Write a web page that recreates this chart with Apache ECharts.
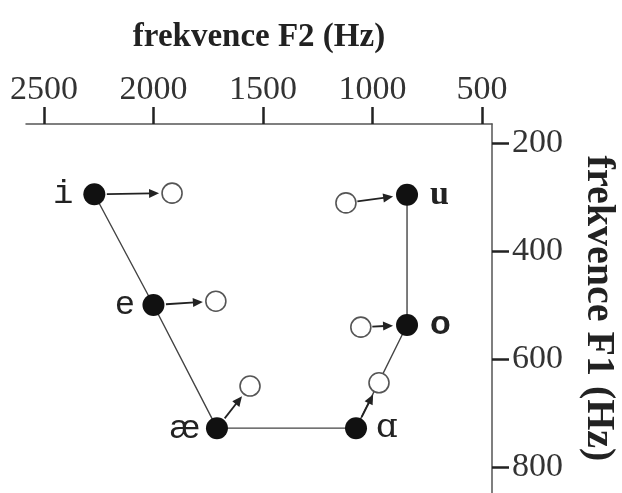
<!DOCTYPE html>
<html><head><meta charset="utf-8">
<script src="https://cdn.jsdelivr.net/npm/echarts@6/dist/echarts.min.js"></script>
<style>html,body{margin:0;padding:0;background:#fff}#c{width:622px;height:493px}</style>
</head><body><div id="c"></div>
<script>
// ---- data ----
const vowels = ['i', 'e', 'æ', 'ɑ', 'o', 'u'];
const f2Filled = [2270, 2000, 1710, 1075, 842, 842];
const f1Filled = [295, 500, 728, 728, 537, 296];
const f2Open = [1915, 1715, 1559, 970, 1053, 1121];
const f1Open = [293, 493, 650, 644, 541, 311];
const arrowToOpen = [1, 1, 1, 1, 0, 0];
const f2Ticks = [2500, 2000, 1500, 1000, 500];
const f1Ticks = [200, 400, 600, 800];
const f2Title = 'frekvence F2 (Hz)';
const f1Title = 'frekvence F1 (Hz)';

// ---- label styles (per vowel) ----
const labelStyle = {
  'i': { position: 'left', fontFamily: 'Liberation Mono', distance: 10 },
  'e': { position: 'left', fontFamily: 'Liberation Sans', distance: 8 },
  'æ': { position: 'left', fontFamily: 'Liberation Sans', distance: 6 },
  'ɑ': { position: 'right', fontFamily: 'DejaVu Serif', distance: 9 },
  'o': { position: 'right', fontFamily: 'Liberation Sans', fontWeight: 'bold', distance: 12 },
  'u': { position: 'right', fontFamily: 'Liberation Serif', fontWeight: 'bold', distance: 12 }
};

// ---- build ----
const filledData = vowels.map((v, i) => ({ name: v, value: [f2Filled[i], f1Filled[i]], label: labelStyle[v] }));
const lineData = vowels.map((v, i) => [f2Filled[i], f1Filled[i]]);
const openData = vowels.map((v, i) => [f2Open[i], f1Open[i]]);
const arrowData = vowels.map((v, i) => [f2Filled[i], f1Filled[i], f2Open[i], f1Open[i], arrowToOpen[i]]);

const R_FILLED = 11, R_OPEN = 10;
function renderArrow(params, api) {
  const pf = api.coord([api.value(0), api.value(1)]);
  const po = api.coord([api.value(2), api.value(3)]);
  const toOpen = api.value(4) === 1;
  const s = toOpen ? pf : po, t = toOpen ? po : pf;
  const rs = toOpen ? R_FILLED : R_OPEN, rt = toOpen ? R_OPEN : R_FILLED;
  const dx = t[0] - s[0], dy = t[1] - s[1];
  const len = Math.sqrt(dx * dx + dy * dy);
  const ux = dx / len, uy = dy / len, nx = -uy, ny = ux;
  const st = [s[0] + ux * (rs + 1.5), s[1] + uy * (rs + 1.5)];
  const tip = [t[0] - ux * (rt + 3), t[1] - uy * (rt + 3)];
  const hl = 10, hw = 4.5;
  const base = [tip[0] - ux * hl, tip[1] - uy * hl];
  return {
    type: 'group',
    children: [
      { type: 'line', shape: { x1: st[0], y1: st[1], x2: base[0] + ux * 2, y2: base[1] + uy * 2 },
        style: { stroke: '#222', lineWidth: 1.8 } },
      { type: 'polygon', shape: { points: [tip, [base[0] + nx * hw, base[1] + ny * hw], [base[0] - nx * hw, base[1] - ny * hw]] },
        style: { fill: '#222' } }
    ]
  };
}

const chart = echarts.init(document.getElementById('c'), null, { renderer: 'canvas' });
const serif = 'Liberation Serif';
chart.setOption({
  animation: false,
  backgroundColor: '#fff',
  grid: { left: 26, right: 130, top: 124, bottom: 0, containLabel: false, outerBoundsMode: 'none' },
  xAxis: {
    type: 'value', position: 'top', inverse: true, min: 454, max: 2582,
    name: f2Title, nameLocation: 'middle', nameGap: 70,
    nameTextStyle: { fontFamily: serif, fontWeight: 'bold', fontSize: 33, color: '#222' },
    axisLine: { show: true, lineStyle: { color: '#555', width: 1.5 } },
    axisTick: { show: true, customValues: f2Ticks, length: 17, lineStyle: { color: '#222', width: 2.5 } },
    axisLabel: { customValues: f2Ticks, formatter: v => String(v), fontFamily: serif, fontSize: 34, color: '#333', margin: 17 },
    splitLine: { show: false }
  },
  yAxis: {
    type: 'value', position: 'right', inverse: true, min: 165, max: 848,
    name: f1Title, nameLocation: 'middle', nameGap: 86, nameRotate: -90,
    nameTextStyle: { fontFamily: serif, fontWeight: 'bold', fontSize: 40, color: '#222' },
    axisLine: { show: true, lineStyle: { color: '#555', width: 1.5 } },
    axisTick: { show: true, customValues: f1Ticks, length: 17, lineStyle: { color: '#222', width: 2.5 } },
    axisLabel: { customValues: f1Ticks, formatter: v => String(v), fontFamily: serif, fontSize: 34, color: '#333', margin: 20 },
    splitLine: { show: false }
  },
  series: [
    { type: 'line', data: lineData, symbol: 'none', z: 1,
      lineStyle: { color: '#444', width: 1.4 } },
    { type: 'custom', data: arrowData, renderItem: renderArrow, z: 2, clip: false },
    { type: 'scatter', data: openData, symbol: 'circle', symbolSize: R_OPEN * 2, z: 3,
      itemStyle: { color: '#fff', borderColor: '#555', borderWidth: 1.6, opacity: 1 } },
    { type: 'scatter', data: filledData, symbol: 'circle', symbolSize: R_FILLED * 2, z: 4,
      itemStyle: { color: '#111', opacity: 1 },
      label: {
        show: true, formatter: p => p.name, distance: 8,
        position: 'right', fontSize: 34, color: '#222'
      }
    }
  ]
});
</script></body></html>
